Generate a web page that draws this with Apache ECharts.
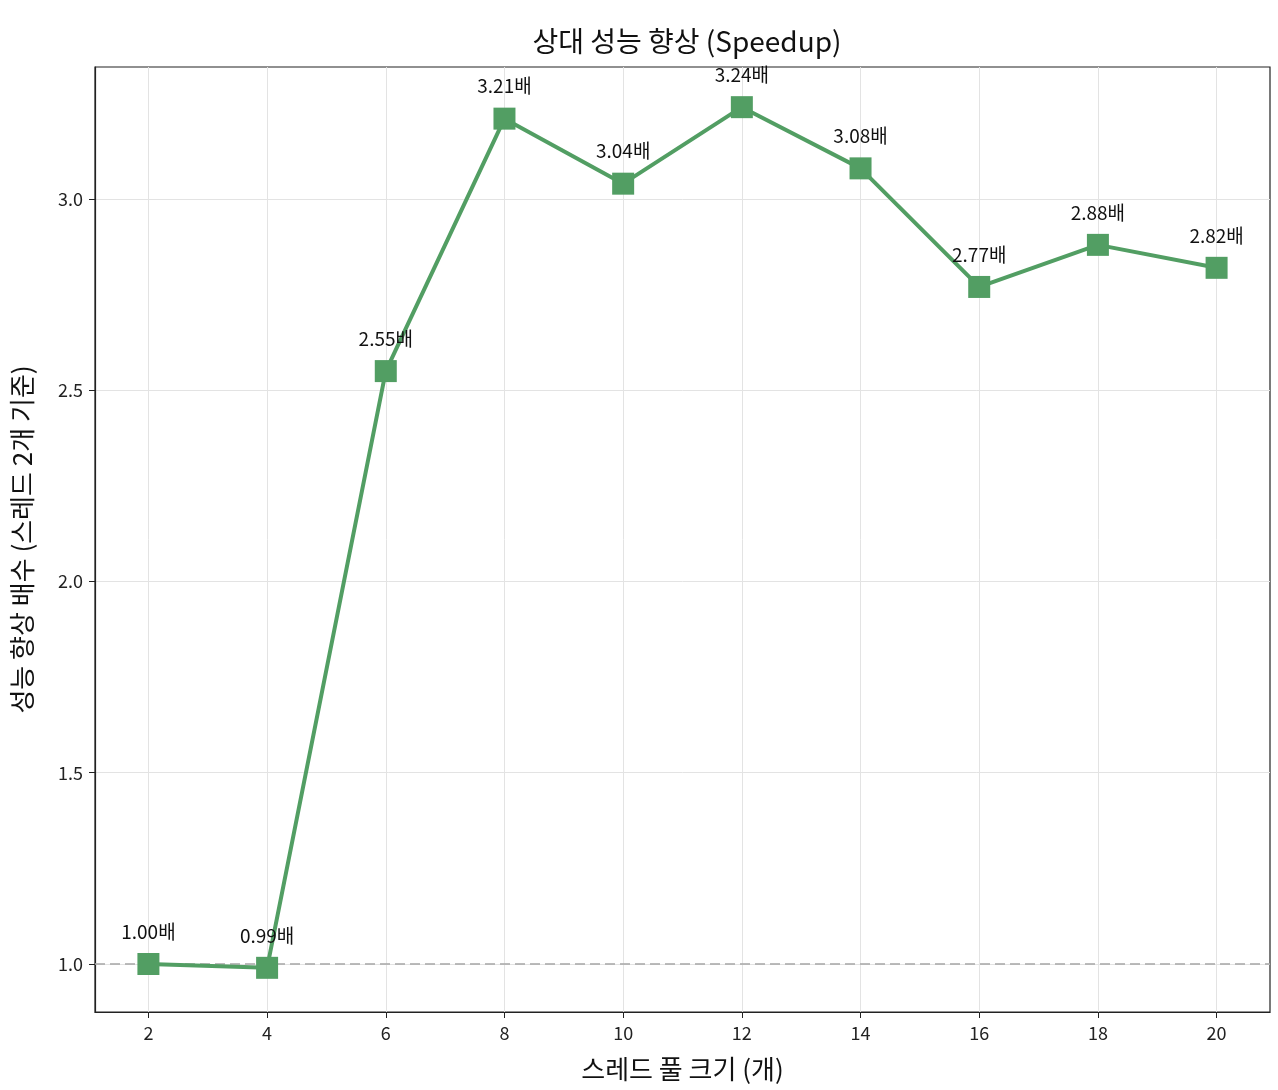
<!DOCTYPE html>
<html>
<head>
<meta charset="utf-8">
<script src="https://cdn.jsdelivr.net/npm/echarts@6/dist/echarts.min.js"></script>
<style>
html, body { margin: 0; padding: 0; background: #fff; }
#chart { width: 1278px; height: 1090px; }
</style>
</head>
<body>
<div id="chart"></div>
<script>
var threadCounts = [2, 4, 6, 8, 10, 12, 14, 16, 18, 20];
var speedups = [1.00, 0.99, 2.55, 3.21, 3.04, 3.24, 3.08, 2.77, 2.88, 2.82];
var xTicks = [2, 4, 6, 8, 10, 12, 14, 16, 18, 20];
var yTicks = [1.0, 1.5, 2.0, 2.5, 3.0];
var baseline = 1.0;

var FONT = "'Noto Sans CJK KR', 'Noto Sans', sans-serif";
var GREEN = "#529e63";

var points = [];
for (var i = 0; i < threadCounts.length; i++) {
    points.push([threadCounts[i], speedups[i]]);
}

var chart = echarts.init(document.getElementById("chart"), null, { renderer: "canvas" });

chart.setOption({
    animation: false,
    backgroundColor: "#fff",
    textStyle: { fontFamily: FONT },
    title: {
        text: "상대 성능 향상 (Speedup)",
        left: 682,
        top: 22,
        textAlign: "center",
        textStyle: { fontFamily: FONT, fontSize: 28, fontWeight: "normal", color: "#111" }
    },
    grid: { left: 95, right: 8, top: 67, bottom: 78, show: true, borderColor: "#222", borderWidth: 1.2, backgroundColor: "transparent" },
    xAxis: {
        type: "value",
        min: 1.1,
        max: 20.9,
        name: "스레드 풀 크기 (개)",
        nameLocation: "middle",
        nameGap: 44,
        nameTextStyle: { fontFamily: FONT, fontSize: 26, color: "#111" },
        axisLine: { show: true, onZero: false, lineStyle: { color: "#222", width: 1.2 } },
        axisTick: { show: true, length: 6, customValues: xTicks, lineStyle: { color: "#222" } },
        axisLabel: { customValues: xTicks, fontSize: 18, color: "#222", margin: 12, fontFamily: FONT },
        splitLine: { show: true, lineStyle: { color: "#e3e3e3", width: 1 } }
    },
    yAxis: {
        type: "value",
        min: 0.8745,
        max: 3.345,
        name: "성능 향상 배수 (스레드 2개 기준)",
        nameLocation: "middle",
        nameGap: 60,
        nameRotate: 90,
        nameTextStyle: { fontFamily: FONT, fontSize: 26, color: "#111" },
        axisLine: { show: true, onZero: false, lineStyle: { color: "#222", width: 1.2 } },
        axisTick: { show: true, length: 6, customValues: yTicks, lineStyle: { color: "#222" } },
        axisLabel: {
            customValues: yTicks, fontSize: 18, color: "#222", margin: 12, fontFamily: FONT,
            formatter: function (v) { return v.toFixed(1); }
        },
        splitLine: { show: true, lineStyle: { color: "#e3e3e3", width: 1 } }
    },
    series: [{
        type: "line",
        data: points,
        symbol: "rect",
        symbolSize: 22,
        itemStyle: { color: GREEN },
        lineStyle: { color: GREEN, width: 4 },
        label: {
            show: true,
            position: "top",
            distance: 12,
            fontFamily: FONT,
            fontSize: 19,
            color: "#111",
            formatter: function (p) { return p.value[1].toFixed(2) + "배"; }
        },
        markLine: {
            silent: true,
            symbol: "none",
            label: { show: false },
            lineStyle: { color: "#aaaaaa", type: [10, 5], width: 2, opacity: 0.8 },
            data: [{ yAxis: baseline }],
            z: 1
        },
        z: 3
    }]
});
</script>
</body>
</html>
